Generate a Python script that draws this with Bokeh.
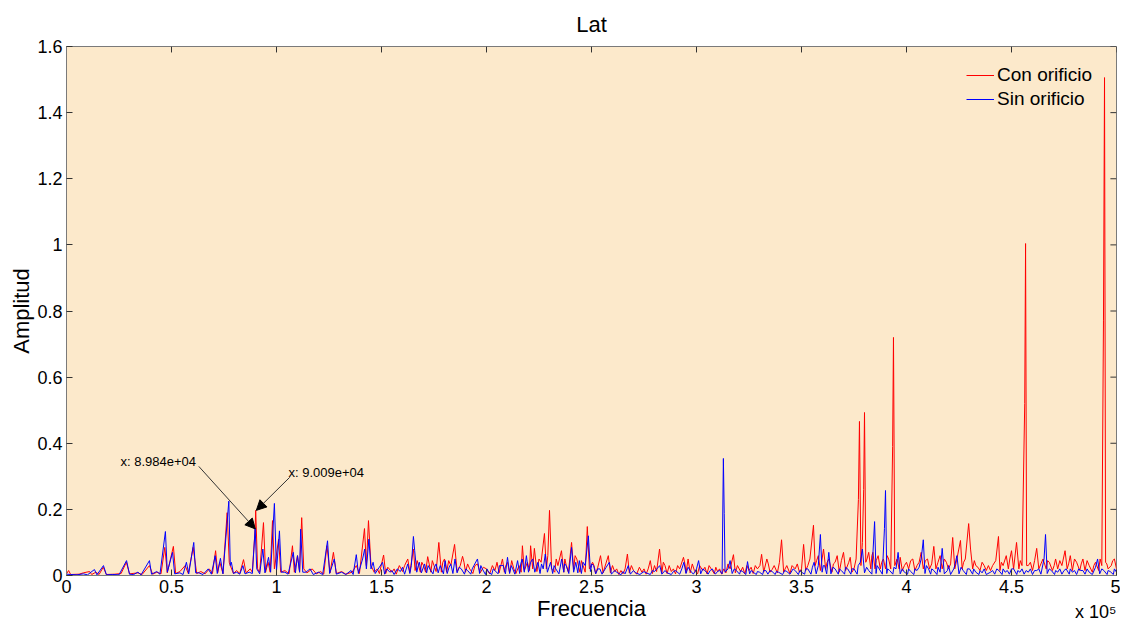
from bokeh.plotting import figure
from bokeh.models import (Range1d, FixedTicker, CustomJSTickFormatter, Title,
                          Arrow, NormalHead, Label, Legend, LegendItem)
from bokeh.embed import file_html
from bokeh.resources import INLINE

# ---------------- data (frequency in kHz, amplitude) ----------------
con_freq = [0, 1, 2, 6, 8, 11, 12, 14, 15.5, 17.5, 19, 23, 26, 28.5, 30, 34, 36, 39.5, 41, 43,
            45, 46.8, 48, 50.9, 52, 54, 56.5, 58, 60.3, 62, 64, 66, 68, 69.5, 71, 72, 73, 74.5, 76.5, 77.5,
            78, 79.5, 81, 82.5, 84.3, 85.5, 87.5, 88.5, 89.84, 90.09, 91, 92, 93.8, 94.8, 96, 97, 98.1, 99, 101, 102,
            104, 106, 107.6, 108.5, 110, 111, 112, 113, 114.5, 117, 119, 121, 122.5, 124, 125.5, 127.1, 128.5, 131, 133, 136,
            138, 139.5, 141.9, 142.8, 143.8, 145, 146.5, 148, 149, 151, 152, 155, 157, 160, 162.5, 163.5, 165.2, 166, 167, 168.5,
            170, 171, 172, 173.5, 175, 176, 177.3, 178.5, 180, 181, 183, 184.8, 186, 187.5, 188.6, 190, 192, 193.5, 195.7, 197,
            200, 201.5, 204, 206, 207.6, 208.5, 210, 211, 213, 214, 215.5, 216.5, 217.1, 218, 219.5, 220.5, 221, 222, 222.8, 224,
            226, 227.6, 228.5, 230, 231, 232.5, 234, 235.7, 236.8, 238, 239, 240.5, 241.5, 243, 244.5, 246, 247, 248, 249, 250.5,
            252, 254.3, 255.5, 258, 259, 261, 263, 265, 267.1, 268, 270, 271.5, 274, 276, 278, 279, 281, 282.4, 283.5, 285,
            286, 288, 290, 292, 293.8, 295, 296, 297, 299, 300.5, 303, 305, 307, 308.5, 310, 312, 313, 314, 316, 317.6,
            318.5, 321, 323, 325, 327, 329, 331, 332, 333.5, 335, 337, 338.5, 340.5, 341.5, 343, 344.5, 347, 349, 351, 352,
            354, 355.7, 356.5, 358, 359, 360.5, 361.5, 363, 364.5, 366, 367, 368, 370, 371, 372.5, 374, 376, 377.1, 377.6, 378.3,
            379, 379.6, 380, 380.6, 382, 383, 384, 385, 386.5, 387.5, 389, 390, 391.5, 392.5, 393.4, 393.8, 394.4, 395.5, 396.5, 397,
            398, 400, 401, 403, 404, 406, 407, 408, 410, 411, 413, 414, 416, 417, 419, 420, 422, 423, 424, 425.7,
            426.5, 428, 429.6, 430.5, 431.5, 433, 435, 437, 438, 439, 440, 443.8, 444.5, 446, 447.5, 448.5, 450, 451, 452.4, 453.5,
            455, 456.3, 456.7, 457.2, 459, 460, 462, 463, 465, 466.5, 468, 469.5, 471, 472, 474, 475.5, 476.5, 478, 479, 481,
            482.5, 484, 485, 487, 488.5, 490, 491.5, 493, 493.8, 494.3, 494.8, 496, 497.5, 499, 500]
con_amp = [0.005, 0.015, 0.003, 0.004, 0.008, 0.012, 0.003, 0.01, 0.003, 0.025, 0.003, 0.004, 0.006, 0.04, 0.005, 0.008, 0.003, 0.03, 0.004, 0.01,
           0.005, 0.085, 0.008, 0.088, 0.006, 0.012, 0.03, 0.006, 0.085, 0.006, 0.012, 0.005, 0.02, 0.006, 0.075, 0.008, 0.04, 0.006, 0.19, 0.04,
           0.03, 0.006, 0.015, 0.006, 0.048, 0.008, 0.02, 0.01, 0.142, 0.197, 0.02, 0.01, 0.16, 0.01, 0.04, 0.01, 0.166, 0.02, 0.11, 0.01,
           0.015, 0.005, 0.09, 0.01, 0.06, 0.01, 0.175, 0.02, 0.008, 0.02, 0.005, 0.012, 0.004, 0.09, 0.008, 0.07, 0.006, 0.012, 0.004, 0.01,
           0.03, 0.006, 0.142, 0.03, 0.166, 0.03, 0.01, 0.02, 0.006, 0.062, 0.006, 0.01, 0.004, 0.012, 0.05, 0.01, 0.08, 0.015, 0.045, 0.01,
           0.03, 0.01, 0.057, 0.01, 0.03, 0.012, 0.1, 0.01, 0.05, 0.01, 0.03, 0.094, 0.012, 0.03, 0.058, 0.01, 0.02, 0.006, 0.035, 0.008,
           0.02, 0.005, 0.015, 0.008, 0.05, 0.01, 0.04, 0.008, 0.02, 0.006, 0.03, 0.01, 0.09, 0.015, 0.04, 0.015, 0.09, 0.02, 0.082, 0.012,
           0.04, 0.127, 0.02, 0.197, 0.02, 0.01, 0.03, 0.075, 0.01, 0.03, 0.01, 0.1, 0.02, 0.05, 0.01, 0.03, 0.01, 0.148, 0.02, 0.04,
           0.006, 0.06, 0.008, 0.06, 0.008, 0.012, 0.003, 0.005, 0.065, 0.008, 0.015, 0.004, 0.01, 0.004, 0.045, 0.006, 0.012, 0.08, 0.008, 0.03,
           0.006, 0.012, 0.005, 0.02, 0.055, 0.008, 0.05, 0.008, 0.015, 0.005, 0.015, 0.005, 0.02, 0.005, 0.012, 0.004, 0.02, 0.008, 0.02, 0.063,
           0.008, 0.012, 0.005, 0.015, 0.006, 0.02, 0.064, 0.01, 0.05, 0.01, 0.03, 0.008, 0.108, 0.01, 0.03, 0.006, 0.02, 0.01, 0.094, 0.015,
           0.05, 0.152, 0.03, 0.06, 0.015, 0.08, 0.02, 0.05, 0.01, 0.04, 0.06, 0.01, 0.07, 0.015, 0.04, 0.01, 0.05, 0.23, 0.466, 0.03,
           0.1, 0.26, 0.493, 0.04, 0.07, 0.02, 0.07, 0.02, 0.06, 0.02, 0.05, 0.02, 0.05, 0.02, 0.39, 0.72, 0.03, 0.05, 0.02, 0.055,
           0.015, 0.04, 0.02, 0.05, 0.015, 0.04, 0.07, 0.02, 0.05, 0.02, 0.088, 0.02, 0.06, 0.02, 0.04, 0.02, 0.115, 0.02, 0.05, 0.106,
           0.02, 0.05, 0.157, 0.08, 0.02, 0.03, 0.015, 0.03, 0.015, 0.03, 0.015, 0.118, 0.015, 0.03, 0.06, 0.02, 0.075, 0.02, 0.1, 0.02,
           0.03, 0.52, 1.004, 0.03, 0.04, 0.015, 0.082, 0.02, 0.05, 0.02, 0.04, 0.015, 0.05, 0.02, 0.03, 0.075, 0.02, 0.06, 0.015, 0.04,
           0.015, 0.05, 0.015, 0.03, 0.01, 0.04, 0.015, 0.03, 0.77, 1.506, 0.04, 0.02, 0.03, 0.05, 0.02]

# extra small ripples of the "Con orificio" trace (kHz, amplitude)
con_extra_freq = [153, 156, 158.5, 161, 169.2, 174.2, 179.2, 182, 189.3, 191,
                  194.5, 198.5, 202.8, 205, 209.2, 212, 225, 229.2, 233.2, 237.3,
                  242.2, 245.2, 251.2, 253, 256.8, 260, 262, 264, 266, 269,
                  272.8, 275, 277, 280, 284.2, 287, 289, 291, 294.5, 298,
                  301.5, 304, 306, 309.2, 311, 315, 319.5, 322, 324, 326,
                  328, 330.2, 334.2, 336, 339.5, 342.2, 345.5, 348, 350, 353,
                  357.2, 362.2, 365.2, 369, 373.2, 375, 381.2, 383.5, 385.6, 388.2,
                  390.8, 399, 402, 405, 409, 412, 415, 418, 421, 427.2,
                  432.3, 434, 436, 441, 442.5, 445.2, 449.2, 454.2, 458, 461,
                  464, 467.2, 470.3, 473, 477.2, 480, 483.2, 486, 489.2, 492.2,
                  495.4, 498.2]
con_extra_amp = [0.025, 0.02, 0.03, 0.03, 0.04, 0.045, 0.04, 0.045, 0.04, 0.035,
                 0.03, 0.025, 0.03, 0.04, 0.03, 0.045, 0.05, 0.06, 0.05, 0.05,
                 0.06, 0.045, 0.03, 0.025, 0.035, 0.03, 0.02, 0.015, 0.02, 0.03,
                 0.025, 0.02, 0.02, 0.03, 0.04, 0.03, 0.02, 0.03, 0.035, 0.035,
                 0.03, 0.025, 0.03, 0.025, 0.02, 0.035, 0.03, 0.025, 0.03, 0.025,
                 0.03, 0.03, 0.035, 0.018, 0.04, 0.02, 0.03, 0.035, 0.02, 0.03,
                 0.045, 0.04, 0.035, 0.045, 0.055, 0.02, 0.05, 0.06, 0.045, 0.04,
                 0.06, 0.03, 0.045, 0.03, 0.045, 0.035, 0.04, 0.05, 0.035, 0.04,
                 0.045, 0.025, 0.04, 0.03, 0.045, 0.04, 0.05, 0.045, 0.03, 0.045,
                 0.035, 0.045, 0.03, 0.045, 0.035, 0.05, 0.035, 0.045, 0.03, 0.05,
                 0.035, 0.045]

sin_freq = [0, 2, 5, 8, 10, 13.3, 14.5, 17.6, 19, 22, 25, 28.6, 30, 32, 34, 35.5, 39.5, 40.5, 43, 44.5,
            47.1, 48, 50.5, 51.5, 54, 55.5, 57.1, 58.2, 60.6, 61.5, 63, 65, 67.5, 69, 70.8, 71.8, 73.3, 74.5, 77.3, 78,
            78.5, 79.5, 81, 82.5, 84, 85, 87, 88.5, 89.84, 90.6, 92, 93.5, 94.5, 96.2, 97.2, 99, 100, 101.4, 102.3, 104,
            105.5, 108, 109, 110, 111, 111.5, 112.5, 114, 116, 117.5, 120, 122, 124.3, 125.3, 127.5, 128.5, 131, 133, 135.5, 136.5,
            138, 139, 141, 142, 142.8, 144, 145, 146, 147, 150.5, 151.5, 154, 156, 159, 161, 162.5, 163.5, 165.2, 165.8, 166.8,
            168, 169, 170.5, 171.5, 173, 174.5, 176, 177, 178, 179.5, 180.3, 181.3, 183, 184, 185, 186, 188, 189.5, 191, 192.5,
            194, 195.7, 196.7, 198, 199.5, 201, 202.5, 204, 205.5, 207, 208, 209, 210, 211, 212.5, 213.5, 214.8, 215.8, 217, 218,
            219, 220, 222, 223, 224.5, 225.5, 227, 228, 229, 230.5, 231.5, 233, 234.5, 235.8, 236.8, 238, 239.2, 240.5, 241.5, 242.5,
            243.5, 244.2, 245.2, 247, 248.5, 249.5, 251, 252, 254, 255, 258.5, 259.5, 262, 264, 266, 267.5, 268.5, 271, 273, 276,
            278, 280, 282.5, 283.5, 286, 288, 290, 292, 294, 295, 297, 298.5, 301, 302, 304, 305.5, 307.5, 309, 311, 312.2,
            312.8, 313.2, 313.6, 315, 316, 317, 319, 320.5, 322, 323.5, 324.3, 325.3, 327, 328.5, 330, 331.5, 333, 334, 336, 337.5,
            339, 341, 343, 344.5, 347, 348.5, 350, 351.5, 353, 354.5, 356, 357, 359, 359.8, 361, 362, 363, 364, 366, 367.5,
            369, 370.5, 372, 373.5, 375, 376.5, 378, 379, 380, 382, 383.5, 384.8, 385.5, 387, 388.5, 389.5, 390, 390.6, 392, 393.5,
            395, 396, 397, 399, 400.5, 402, 403.5, 405, 407, 408, 408.8, 410.5, 411.5, 413, 414.5, 416, 417, 418, 419.5, 421,
            422.5, 424, 425, 427, 428.5, 430, 431.5, 433, 434.5, 436, 438, 440, 442, 444, 445.5, 447, 449, 451, 452.5, 454,
            456, 458, 460, 462, 464, 465.5, 466.2, 467, 469, 470.5, 472, 474, 476, 477.5, 479, 481, 483, 485, 487, 488.5,
            491, 492, 494, 495.5, 497, 498.5, 500]
sin_amp = [0.004, 0.003, 0.002, 0.005, 0.002, 0.018, 0.002, 0.03, 0.002, 0.003, 0.002, 0.045, 0.004, 0.003, 0.01, 0.002, 0.045, 0.004, 0.012, 0.004,
           0.133, 0.01, 0.07, 0.005, 0.008, 0.003, 0.04, 0.005, 0.1, 0.008, 0.008, 0.003, 0.02, 0.004, 0.06, 0.006, 0.052, 0.005, 0.225, 0.03,
           0.04, 0.006, 0.01, 0.004, 0.03, 0.005, 0.01, 0.006, 0.142, 0.02, 0.005, 0.08, 0.008, 0.055, 0.01, 0.218, 0.015, 0.135, 0.01, 0.01,
           0.004, 0.07, 0.008, 0.06, 0.01, 0.14, 0.01, 0.01, 0.02, 0.003, 0.01, 0.003, 0.105, 0.006, 0.05, 0.004, 0.01, 0.003, 0.015, 0.003,
           0.063, 0.006, 0.05, 0.08, 0.02, 0.11, 0.02, 0.04, 0.006, 0.04, 0.004, 0.01, 0.003, 0.012, 0.004, 0.035, 0.006, 0.118, 0.075, 0.01,
           0.04, 0.008, 0.035, 0.008, 0.02, 0.005, 0.035, 0.008, 0.03, 0.005, 0.045, 0.006, 0.035, 0.006, 0.05, 0.008, 0.02, 0.004, 0.015, 0.004,
           0.03, 0.05, 0.006, 0.02, 0.003, 0.01, 0.003, 0.015, 0.005, 0.03, 0.03, 0.005, 0.055, 0.006, 0.02, 0.004, 0.045, 0.006, 0.05, 0.01,
           0.06, 0.01, 0.05, 0.01, 0.04, 0.006, 0.02, 0.065, 0.01, 0.04, 0.006, 0.02, 0.005, 0.05, 0.01, 0.03, 0.006, 0.085, 0.01, 0.04,
           0.008, 0.045, 0.006, 0.03, 0.12, 0.012, 0.03, 0.005, 0.02, 0.004, 0.04, 0.004, 0.01, 0.002, 0.005, 0.03, 0.004, 0.008, 0.003, 0.008,
           0.003, 0.012, 0.03, 0.004, 0.008, 0.003, 0.015, 0.004, 0.04, 0.006, 0.015, 0.004, 0.045, 0.005, 0.015, 0.004, 0.02, 0.004, 0.015, 0.005,
           0.354, 0.187, 0.01, 0.02, 0.045, 0.006, 0.015, 0.004, 0.012, 0.003, 0.042, 0.005, 0.01, 0.003, 0.01, 0.003, 0.015, 0.004, 0.012, 0.003,
           0.01, 0.003, 0.012, 0.004, 0.015, 0.003, 0.01, 0.004, 0.02, 0.004, 0.04, 0.005, 0.124, 0.01, 0.03, 0.005, 0.07, 0.005, 0.02, 0.004,
           0.015, 0.004, 0.02, 0.004, 0.02, 0.004, 0.04, 0.08, 0.008, 0.015, 0.004, 0.163, 0.006, 0.02, 0.004, 0.142, 0.257, 0.006, 0.015, 0.004,
           0.02, 0.07, 0.005, 0.01, 0.004, 0.012, 0.003, 0.015, 0.05, 0.108, 0.006, 0.02, 0.004, 0.015, 0.003, 0.01, 0.082, 0.005, 0.015, 0.003,
           0.02, 0.06, 0.005, 0.015, 0.003, 0.02, 0.004, 0.01, 0.003, 0.008, 0.003, 0.01, 0.004, 0.015, 0.003, 0.01, 0.004, 0.02, 0.003, 0.01,
           0.004, 0.01, 0.003, 0.015, 0.004, 0.05, 0.124, 0.006, 0.015, 0.003, 0.01, 0.004, 0.02, 0.004, 0.01, 0.003, 0.015, 0.004, 0.01, 0.003,
           0.05, 0.005, 0.015, 0.003, 0.012, 0.003, 0.01]

# extra small ripples of the "Sin orificio" trace (kHz, amplitude)
sin_extra_freq = [152.5, 155, 157.5, 160, 164.2, 167.5, 172.2, 175.2, 177.5, 182.2,
                  187, 190.2, 193.2, 197.3, 200.2, 203.2, 206.2, 211.8, 216.3, 221,
                  226.2, 232.2, 237.2, 246, 250.2, 253, 257, 261, 265, 270,
                  275, 279, 285, 289, 293, 296, 300, 303, 306.5, 310,
                  318, 321, 326, 329, 332, 335, 338, 342, 346, 349.2,
                  352, 355.2, 358, 360.4, 365, 368, 371, 374, 377, 381,
                  386, 391, 394, 398, 401, 404, 406, 409.5, 412, 415,
                  420, 423, 426, 429, 432, 435, 437, 441, 443, 446,
                  448, 450, 453, 455, 457, 459, 461, 463, 468, 471,
                  473, 475, 478, 480, 482, 484, 486, 490, 493, 496,
                  499]
sin_extra_amp = [0.02, 0.015, 0.02, 0.025, 0.03, 0.03, 0.03, 0.025, 0.02, 0.025,
                 0.025, 0.02, 0.02, 0.03, 0.02, 0.02, 0.03, 0.03, 0.035, 0.04,
                 0.035, 0.03, 0.035, 0.04, 0.035, 0.02, 0.025, 0.015, 0.012, 0.015,
                 0.012, 0.015, 0.015, 0.012, 0.02, 0.025, 0.02, 0.02, 0.015, 0.012,
                 0.02, 0.015, 0.015, 0.012, 0.015, 0.015, 0.012, 0.015, 0.02, 0.015,
                 0.02, 0.025, 0.03, 0.03, 0.025, 0.02, 0.025, 0.02, 0.03, 0.025,
                 0.03, 0.02, 0.025, 0.02, 0.02, 0.02, 0.025, 0.03, 0.02, 0.025,
                 0.03, 0.03, 0.025, 0.02, 0.02, 0.015, 0.02, 0.015, 0.02, 0.02,
                 0.015, 0.02, 0.015, 0.02, 0.015, 0.02, 0.015, 0.02, 0.02, 0.015,
                 0.02, 0.015, 0.02, 0.015, 0.02, 0.015, 0.02, 0.025, 0.02, 0.015,
                 0.02]

series_labels = ["Con orificio", "Sin orificio"]
x_ticks = [0, 50, 100, 150, 200, 250, 300, 350, 400, 450, 500]
y_ticks = [0, 0.2, 0.4, 0.6, 0.8, 1.0, 1.2, 1.4, 1.6]

# data tips: label, text position, arrow start and tip
tip_labels = ["x: 8.984e+04", "x: 9.009e+04"]
tip_text_x = [25.7, 105.7]
tip_text_y = [0.345, 0.312]
tip_start_x = [63.0, 106.3]
tip_start_y = [0.33, 0.297]
tip_end_x = [89.9, 90.4]
tip_end_y = [0.141, 0.197]

FONT = "Liberation Sans"
BG = "#FCE9CB"
FRAME = "#7a7a7a"
TICK = "#333333"

# merge the main trace points and the extra ripple points, sorted by frequency
con_pts = sorted(zip(con_freq + con_extra_freq, con_amp + con_extra_amp))
sin_pts = sorted(zip(sin_freq + sin_extra_freq, sin_amp + sin_extra_amp))
con_x = [f for f, a in con_pts]
con_y = [a for f, a in con_pts]
sin_x = [f for f, a in sin_pts]
sin_y = [a for f, a in sin_pts]

p = figure(width=1120, height=625, output_backend="svg", toolbar_location=None,
           x_range=Range1d(0, 500), y_range=Range1d(0, 1.6),
           background_fill_color=BG, border_fill_color="white",
           min_border_left=66, min_border_right=4, min_border_top=46, min_border_bottom=50)
p.grid.visible = False
p.outline_line_color = FRAME

p.title.text = "Lat"
p.title.align = "center"
p.title.text_font = FONT
p.title.text_font_size = "22px"
p.title.text_font_style = "normal"
p.title.text_color = "black"
p.title.standoff = 19

xfmt = CustomJSTickFormatter(code="return (tick/100).toString();")
yfmt = CustomJSTickFormatter(code="return tick.toFixed(1).replace(/\\.0$/, '');")

for ax in (p.xaxis[0], p.yaxis[0]):
    ax.major_tick_in = 6
    ax.major_tick_out = 0
    ax.minor_tick_line_color = None
    ax.axis_line_color = FRAME
    ax.major_tick_line_color = TICK
    ax.major_label_text_font = FONT
    ax.major_label_text_font_size = "18px"
    ax.major_label_text_color = "black"
    ax.axis_label_text_font = FONT
    ax.axis_label_text_font_size = "22px"
    ax.axis_label_text_font_style = "normal"
    ax.axis_label_text_color = "black"
    ax.major_label_standoff = 4
    ax.axis_label_standoff = 0

p.xaxis.ticker = FixedTicker(ticks=x_ticks)
p.xaxis.formatter = xfmt
p.xaxis.axis_label = "Frecuencia"
p.yaxis.ticker = FixedTicker(ticks=y_ticks)
p.yaxis.formatter = yfmt
p.yaxis.axis_label = "Amplitud"

# exponent note under the right end of the x axis
p.add_layout(Title(text="x 10\u2075", align="right", vertical_align="top", text_font=FONT,
                   text_font_size="18px", text_font_style="normal", text_color="black",
                   standoff=-44), "below")

# inward tick marks on the top and right edges of the box
p.segment(x0=x_ticks, y0=[1.6] * len(x_ticks), x1=x_ticks, y1=[1.6 - 0.018] * len(x_ticks),
          line_color=TICK, line_width=1)
p.segment(x0=[500] * len(y_ticks), y0=y_ticks, x1=[500 - 2.9] * len(y_ticks), y1=y_ticks,
          line_color=TICK, line_width=1)

r_con = p.line(con_x, con_y, line_color="#FF0000", line_width=1)
r_sin = p.line(sin_x, sin_y, line_color="#0000FF", line_width=1)

legend = Legend(items=[LegendItem(label=series_labels[0], renderers=[r_con]),
                       LegendItem(label=series_labels[1], renderers=[r_sin])],
                location="top_right", margin=16, padding=2, spacing=2,
                glyph_width=28, glyph_height=20, label_height=20, label_width=101, label_standoff=3,
                label_text_font=FONT, label_text_font_size="19px", label_text_color="black",
                border_line_alpha=0, background_fill_alpha=0)
p.add_layout(legend)

for i in range(len(tip_labels)):
    p.add_layout(Arrow(end=NormalHead(size=10, fill_color="black", line_color="black"),
                       x_start=tip_start_x[i], y_start=tip_start_y[i],
                       x_end=tip_end_x[i], y_end=tip_end_y[i],
                       line_color=TICK, line_width=1))
    p.add_layout(Label(x=tip_text_x[i], y=tip_text_y[i], text=tip_labels[i],
                       text_font=FONT, text_font_size="13px", text_color="black",
                       text_baseline="middle", text_align="left"))

open("out.html", "w").write(file_html(p, INLINE))
